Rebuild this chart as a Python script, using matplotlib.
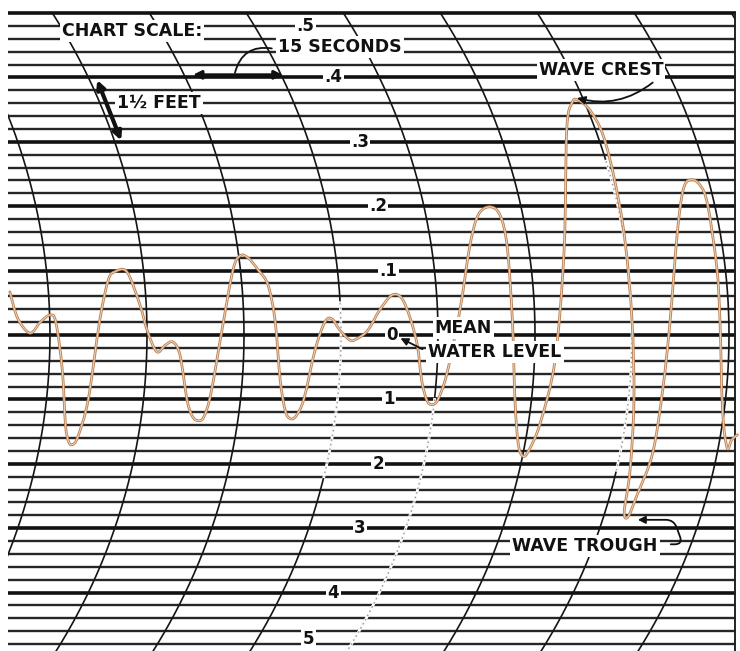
import numpy as np
import matplotlib
matplotlib.use("Agg")
import matplotlib.pyplot as plt
from matplotlib.patches import Rectangle, PathPatch
from matplotlib.path import Path

# ---------------- data ----------------
# recorded trace: time (seconds) and height (chart divisions, + above mean water level)
trace_t = [-6.2, -5.0, -3.1, -1.5, 0.0, 0.9, 1.9, 2.4, 2.9, 3.5, 4.3, 5.9, 7.7, 9.0, 10.0,
           11.9, 13.9, 15.0, 16.5, 17.8, 19.0, 20.1, 21.2, 22.0, 22.9, 23.8, 24.9, 26.6,
           28.3, 29.4, 30.6, 32.2, 33.7, 34.8, 35.6, 36.4, 37.2, 38.1, 39.3, 41.0, 42.5,
           43.6, 44.8, 46.4, 47.6, 49.2, 51.0, 52.9, 54.4, 55.7, 56.8, 57.5, 58.3, 59.1,
           60.0, 61.4, 63.4, 64.9, 66.2, 68.0, 69.6, 70.7, 71.5, 71.9, 72.4, 73.1, 74.0,
           75.8, 78.1, 79.5, 79.9, 80.7, 81.6, 83.5, 85.5, 87.3, 88.9, 90.0, 90.3, 89.7,
           88.8, 89.4, 90.8, 93.2, 94.8, 95.9, 97.0, 97.9, 99.0, 100.5, 101.7, 103.1, 103.6,
           104.0, 104.7, 105.4, 106.3]
trace_h = [0.67, 0.26, 0.03, 0.20, 0.31, 0.20, -0.54, -1.40, -1.66, -1.70, -1.58, -1.01,
           0.23, 0.85, 0.98, 0.98, 0.47, 0.08, -0.26, -0.16, -0.11, -0.31, -1.01, -1.26,
           -1.33, -1.27, -0.90, 0.08, 1.01, 1.23, 1.20, 1.01, 0.78, 0.23, -0.70, -1.18,
           -1.30, -1.25, -0.98, -0.23, 0.20, 0.25, 0.08, -0.08, -0.05, 0.08, 0.39, 0.62,
           0.57, 0.26, -0.16, -0.72, -1.02, -1.08, -1.00, -0.59, 0.39, 1.37, 1.86, 1.99,
           1.86, 1.37, 0.23, -1.01, -1.68, -1.88, -1.80, -1.37, -0.39, 1.32, 3.18, 3.60,
           3.65, 3.49, 3.11, 2.41, 1.48, 0.23, -1.01, -2.10, -2.74, -2.82, -2.48, -1.83,
           -0.81, 0.23, 1.58, 2.25, 2.41, 2.33, 2.02, 1.06, 0.23, -1.16, -1.75, -1.63, -1.55]

level_labels = [".5", ".4", ".3", ".2", ".1", "0", "1", "2", "3", "4", "5"]
level_label_h = [4.8, 4, 3, 2, 1, 0, -1, -2, -3, -4, -4.72]
arc_times = [0, 15, 30, 45, 60, 75, 90, 105, 120]
# arcs drawn as white dotted segments: (arc time, h from, h to)
dotted_arcs = [(45, 0.5, -2.2), (60, -1.0, -5.0), (90, 2.7, -2.1)]

# ---------------- geometry of the paper ----------------
SX = 97 / 15.0    # px per second
SY = 64.4         # px per division
R = 595.0         # pen-arc radius in px
T_LEFT, T_RIGHT = -6.5, 105.9
H_TOP = 5.0


def arc_dx(h):
    dy = np.asarray(h, dtype=float) * SY
    return (R - np.sqrt(R ** 2 - dy ** 2)) / SX


def smooth_path(xs, ys):
    """Cubic Bezier path through every point (Catmull-Rom tangents)."""
    p = np.column_stack([xs, ys]).astype(float)
    ext = np.vstack([p[0], p, p[-1]])
    verts = [p[0]]
    codes = [Path.MOVETO]
    for i in range(1, len(ext) - 2):
        p0, p1, p2, p3 = ext[i - 1], ext[i], ext[i + 1], ext[i + 2]
        verts += [p1 + (p2 - p0) / 6.0, p2 - (p3 - p1) / 6.0, p2]
        codes += [Path.CURVE4] * 3
    return Path(verts, codes)


fig = plt.figure(figsize=(7.4, 6.51), dpi=100)
ax = fig.add_axes([0, 0, 1, 1])
ax.set_xlim(-7.73, 106.7)
ax.set_ylim(-4.907, 5.202)
ax.axis("off")

clip = Rectangle((T_LEFT, -6), T_RIGHT - T_LEFT, H_TOP + 6, transform=ax.transData,
                 facecolor="none", edgecolor="none")
ax.add_patch(clip)

# horizontal rulings
for i in range(-24, 26):
    h = i * 0.2
    major = (i % 5 == 0)
    ax.hlines(h, T_LEFT, T_RIGHT + 0.2, colors="#111111" if major else "#262626",
              linewidth=2.6 if major else 1.7, zorder=1)
ax.vlines(T_RIGHT, -5.0, H_TOP, colors="#222222", linewidth=1.4, zorder=1)

# time arcs
hh = np.linspace(-5.0, H_TOP, 400)
for t0 in arc_times:
    ln, = ax.plot(t0 - arc_dx(hh), hh, color="#151515", linewidth=1.2, zorder=2)
    ln.set_clip_path(clip)
for t0, h1, h2 in dotted_arcs:
    seg = np.linspace(h1, h2, 120)
    ax.plot(t0 - arc_dx(seg), seg, color="white", linewidth=2.0, zorder=2.5)
    ax.plot(t0 - arc_dx(seg), seg, color="#9a9a9a", linewidth=1.0,
            linestyle=(0, (1.2, 2.2)), zorder=2.6)

# level labels along an arc
for lab, h in zip(level_labels, level_label_h):
    ax.text(52.9 - arc_dx(h), h, lab, ha="center", va="center", fontsize=12,
            fontweight="bold", color="#111111", zorder=6,
            bbox=dict(facecolor="white", edgecolor="none", pad=1.0))

# wave trace (smooth pen line)
trace_path = smooth_path(trace_t, trace_h)
ax.add_patch(PathPatch(trace_path, facecolor="none", edgecolor="#bd8459", linewidth=2.0,
                       joinstyle="round", capstyle="round", zorder=4))
ax.add_patch(PathPatch(trace_path, facecolor="none", edgecolor="#f3dfc6", linewidth=0.6,
                       joinstyle="round", zorder=4.1))

txt = dict(fontsize=12.5, fontweight="bold", color="#111111", zorder=6,
           bbox=dict(facecolor="white", edgecolor="none", pad=1.5))

# chart scale annotations
ax.text(12.7, 4.72, "CHART SCALE:", ha="center", va="center", **txt)
ax.text(44.8, 4.47, "15 SECONDS", ha="center", va="center", **txt)
ax.text(16.9, 3.60, "1½ FEET", ha="center", va="center", **txt)
ax.annotate("", xy=(22.1, 4.04), xytext=(36.0, 4.04),
            arrowprops=dict(arrowstyle="<|-|>", lw=2.2, color="#111111",
                            mutation_scale=12, shrinkA=0, shrinkB=0), zorder=5)
ax.annotate("", xy=(28.6, 4.07), xytext=(34.3, 4.45),
            arrowprops=dict(arrowstyle="-", lw=1.3, color="#111111",
                            connectionstyle="arc3,rad=0.45", shrinkA=0, shrinkB=0),
            zorder=5)
ax.annotate("", xy=(7.3, 3.96), xytext=(11.0, 3.02),
            arrowprops=dict(arrowstyle="<|-|>", lw=3.0, color="#111111",
                            mutation_scale=12, shrinkA=0, shrinkB=0), zorder=5)

# wave crest
ax.text(85.2, 4.11, "WAVE CREST", ha="center", va="center", **txt)
ax.annotate("", xy=(81.5, 3.68), xytext=(93.2, 3.92),
            arrowprops=dict(arrowstyle="-|>", lw=1.3, color="#111111", mutation_scale=12,
                            connectionstyle="arc3,rad=-0.25", shrinkA=0, shrinkB=0),
            zorder=5)

# mean water level
ax.text(59.5, 0.11, "MEAN", ha="left", va="center", **txt)
ax.text(58.5, -0.27, "WATER LEVEL", ha="left", va="center", **txt)
ax.annotate("", xy=(54.2, -0.05), xytext=(57.6, -0.22),
            arrowprops=dict(arrowstyle="-|>", lw=1.3, color="#111111", mutation_scale=11,
                            shrinkA=0, shrinkB=0), zorder=7)

# wave trough
ax.text(82.7, -3.28, "WAVE TROUGH", ha="center", va="center", **txt)
ax.annotate("", xy=(90.9, -2.87), xytext=(96.0, -3.25),
            arrowprops=dict(arrowstyle="-|>", lw=1.3, color="#111111", mutation_scale=11,
                            connectionstyle="arc,angleA=0,angleB=0,armA=12,armB=36,rad=8",
                            shrinkA=0, shrinkB=0), zorder=7)

fig.savefig("out.png", dpi=100, facecolor="white")
